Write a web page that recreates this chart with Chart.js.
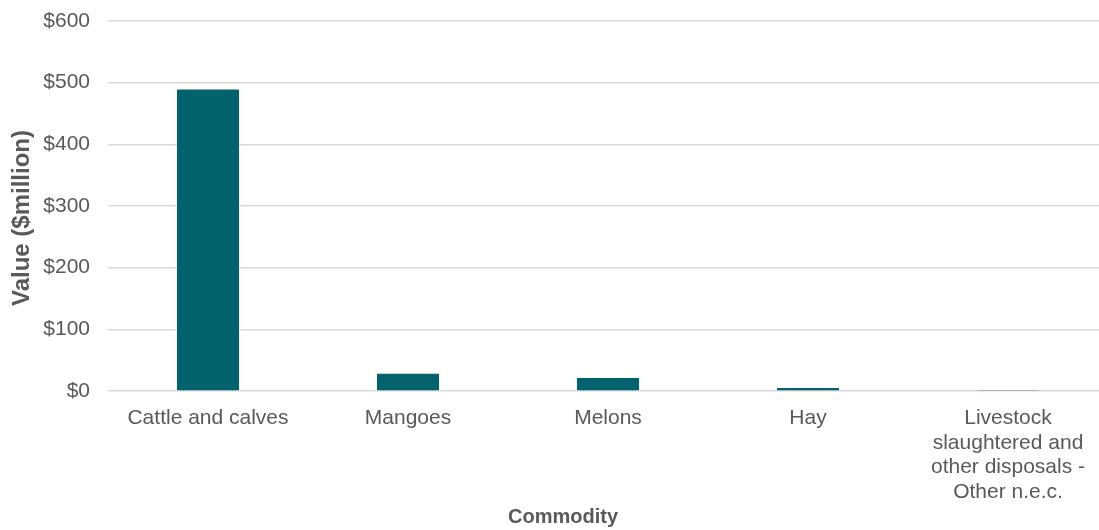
<!DOCTYPE html>
<html>
<head>
<meta charset="utf-8">
<script src="https://cdn.jsdelivr.net/npm/chart.js@4/dist/chart.umd.min.js"></script>
<style>
  html, body { margin: 0; padding: 0; background: #fff; overflow: hidden; }
  canvas { display: block; }
</style>
</head>
<body>
<!-- canvas is a little wider than the window: the original plot runs past the right edge -->
<canvas id="commodityChart" width="1108" height="530"></canvas>
<script>
// Commodity values ($million)
const commodities = [
    'Cattle and calves',
    'Mangoes',
    'Melons',
    'Hay',
    ['Livestock', 'slaughtered and', 'other disposals -', 'Other n.e.c.']
];
const values = [489, 28, 21, 5, 1];
const yTicks = [0, 100, 200, 300, 400, 500, 600];

const textGrey = '#595959';
const barColour = '#03626E';

// nudge an axis title away from its default centred spot
function shiftTitle(scale, dx, dy) {
    if (scale._titleShifted) return;
    const orig = scale.drawTitle.bind(scale);
    scale.drawTitle = function() {
        const c = scale.ctx;
        c.save();
        c.translate(dx, dy);
        orig();
        c.restore();
    };
    scale._titleShifted = true;
}

document.addEventListener('DOMContentLoaded', function() {
    const ctx = document.getElementById('commodityChart');
    new Chart(ctx, {
        type: 'bar',
        data: {
            labels: commodities,
            datasets: [{
                label: 'Value',
                data: values,
                backgroundColor: barColour,
                categoryPercentage: 1,
                barPercentage: 0.31
            }]
        },
        options: {
            responsive: false,
            animation: false,
            devicePixelRatio: 1,
            layout: { padding: { top: 21, right: 0, left: 0, bottom: 0 } },
            plugins: {
                legend: { display: false },
                tooltip: { enabled: false }
            },
            scales: {
                x: {
                    grid: { display: false },
                    border: { display: false },
                    ticks: {
                        color: textGrey,
                        padding: 7,
                        maxRotation: 0,
                        autoSkip: false,
                        font: { family: 'Liberation Sans, Arial, sans-serif', size: 21, lineHeight: 1.17 }
                    },
                    title: {
                        display: true,
                        text: 'Commodity',
                        color: textGrey,
                        padding: { top: 0, bottom: 1 },
                        font: { family: 'Liberation Sans, Arial, sans-serif', size: 20, weight: 'bold', lineHeight: 1.2 }
                    },
                    afterFit: function(scale) {
                        scale.height = 139;
                        scale.paddingLeft = 0;
                        scale.paddingRight = 0;
                        shiftTitle(scale, -45, 0);
                    }
                },
                y: {
                    min: 0,
                    max: 600,
                    afterBuildTicks: function(scale) {
                        scale.ticks = yTicks.map(v => ({ value: v }));
                    },
                    grid: {
                        color: '#d9d9d9',
                        lineWidth: 1.5,
                        drawTicks: false
                    },
                    border: { display: false },
                    ticks: {
                        color: textGrey,
                        padding: 18,
                        font: { family: 'Liberation Sans, Arial, sans-serif', size: 21 },
                        callback: function(v) { return '$' + v; }
                    },
                    title: {
                        display: true,
                        text: 'Value ($million)',
                        color: textGrey,
                        padding: { top: 10, bottom: 0 },
                        font: { family: 'Liberation Sans, Arial, sans-serif', size: 24, weight: 'bold', lineHeight: 1.05 }
                    },
                    afterFit: function(scale) {
                        scale.width = 108;
                        scale.paddingTop = 0;
                        shiftTitle(scale, 0, 12);
                    }
                }
            }
        }
    });
});
</script>
</body>
</html>
